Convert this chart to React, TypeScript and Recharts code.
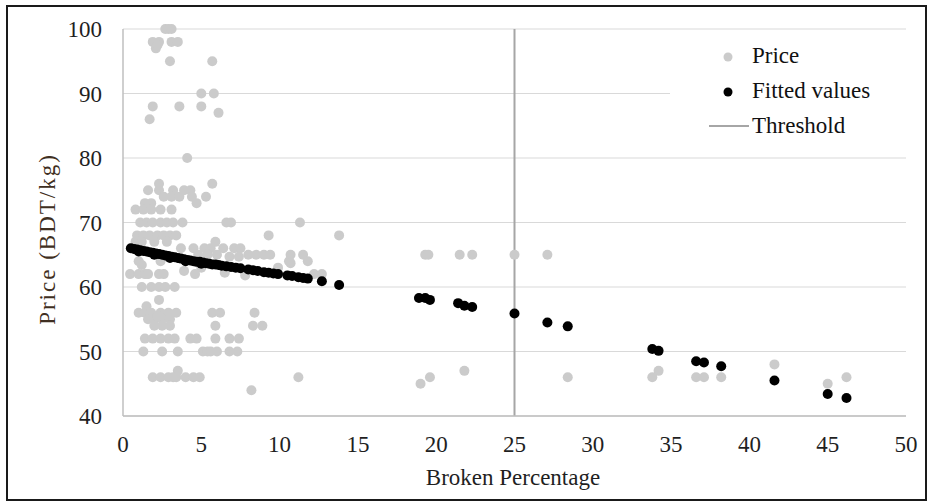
import React from 'react';
import { ScatterChart, Scatter, XAxis, YAxis, CartesianGrid, ReferenceLine } from 'recharts';

const FONT = 'Liberation Serif';
const FS = 23;

const xTicks = [0, 5, 10, 15, 20, 25, 30, 35, 40, 45, 50];
const yTicks = [40, 50, 60, 70, 80, 90, 100];
const threshold = 25;

const priceX = [
  2.7, 2.9, 3.1,
  1.9, 2.1, 2.3, 2.2, 3.1, 3.5,
  3.0, 5.7,
  5.0, 5.8,
  1.9, 3.6, 5.0, 6.1, 1.7, 4.1,
  2.3, 5.7, 1.6, 2.3, 3.2, 3.9, 4.3, 2.6, 3.1, 3.6, 4.4, 5.3, 1.4, 1.8, 4.7, 0.8, 1.3, 1.8, 2.4, 3.1,
  1.1, 1.5, 1.9, 2.4, 2.8, 3.2, 3.8, 6.6, 6.9, 11.3,
  0.9, 1.3, 1.7, 2.2, 2.6, 3.0, 3.4, 9.3, 13.8,
  0.8, 1.2, 2.0, 2.8, 5.9,
  3.7, 4.5, 5.2, 5.6, 6.4, 7.1, 7.5,
  4.8, 5.4, 6.0, 8.0, 8.5, 9.0, 9.4, 10.7, 11.5, 19.3, 19.5, 21.5, 22.3, 25.0, 27.1,
  1.0, 2.4, 6.8, 7.4, 10.6, 11.8, 10.7, 1.2,
  9.9, 5.0, 12.2, 3.9, 6.5, 7.8,
  0.45, 1.0, 1.4, 1.6, 2.3, 2.6, 4.6, 12.7,
  1.2, 1.8, 2.3, 2.7, 3.3,
  2.3, 1.5,
  1.0, 1.4, 1.8, 2.4, 2.9, 3.4, 5.7, 6.2, 8.4,
  1.6, 2.0, 2.5, 3.0, 2.2,
  2.0, 2.5, 3.0, 5.9, 8.3, 8.9,
  1.4, 1.9, 2.4, 2.9, 3.3, 4.3, 4.7, 5.9, 6.8, 7.4,
  1.3, 2.5, 3.5, 5.1, 5.4, 5.6, 6.0, 6.8, 7.3,
  3.5, 21.8, 34.2,
  1.9, 2.4, 2.9, 3.2, 3.4, 4.0, 4.5, 4.9, 11.2, 19.6, 28.4, 33.8, 36.6, 37.1, 38.2, 46.2,
  19.0, 45.0,
  8.2,
  41.6,
];
const priceY = [
  100, 100, 100,
  98, 97, 98, 97.5, 98, 98,
  95, 95,
  90, 90,
  88, 88, 88, 87, 86, 80,
  76, 76, 75, 75, 75, 75, 75, 74, 74, 74, 74, 74, 73, 73, 73, 72, 72, 72, 72, 72,
  70, 70, 70, 70, 70, 70, 70, 70, 70, 70,
  68, 68, 68, 68, 68, 68, 68, 68, 68,
  67, 67, 67, 67, 67,
  66, 66, 66, 66, 66, 66, 66,
  65, 65, 65, 65, 65, 65, 65, 65, 65, 65, 65, 65, 65, 65, 65,
  64, 64, 64.7, 64.7, 64, 64, 63.7, 63.4,
  63, 63, 62, 62.5, 62.2, 61.8,
  62, 62, 62, 62, 62, 62, 62, 62,
  60, 60, 60, 60, 60,
  58, 57,
  56, 56, 56, 56, 56, 56, 56, 56, 56,
  55, 55, 55, 55, 55.5,
  54, 54, 54, 54, 54, 54,
  52, 52, 52, 52, 52, 52, 52, 52, 52, 52,
  50, 50, 50, 50, 50, 50, 50, 50, 50,
  47, 47, 47,
  46, 46, 46, 46, 46, 46, 46, 46, 46, 46, 46, 46, 46, 46, 46, 46,
  45, 45,
  44,
  48,
];

const fittedX = [
  0.5, 0.7, 0.9, 1.0, 1.1, 1.3, 1.5, 1.7, 1.9, 2.0, 2.1, 2.3, 2.5, 2.7, 2.9, 3.0, 3.1, 3.3, 3.5, 3.7,
  3.9, 4.0, 4.1, 4.3, 4.5, 4.7, 4.9, 5.0, 5.1, 5.3, 5.5, 5.7, 5.9, 6.1, 6.3, 6.6, 6.9, 7.2, 7.5,
  8.0, 8.3, 8.6, 9.0, 9.3, 9.6, 9.9, 10.5, 10.8, 11.2, 11.5, 11.8,
  12.7, 13.8,
  18.9, 19.3, 19.6, 21.4, 21.8, 22.3, 25.0, 27.1, 28.4, 33.8, 34.2, 36.6, 37.1, 38.2, 41.6, 45.0, 46.2,
];
const fittedY = [
  66.0, 65.9, 65.8, 65.5, 65.7, 65.6, 65.5, 65.4, 65.3, 65.0, 65.2, 65.1, 65.0, 64.9, 64.8, 64.5, 64.7, 64.6, 64.5, 64.4,
  64.3, 64.0, 64.2, 64.1, 64.0, 63.9, 63.9, 63.6, 63.8, 63.7, 63.6, 63.5, 63.5, 63.4, 63.3, 63.2, 63.1, 63.0, 62.9,
  62.7, 62.6, 62.5, 62.3, 62.2, 62.1, 62.0, 61.8, 61.7, 61.5, 61.4, 61.3,
  60.9, 60.3,
  58.3, 58.3, 58.0, 57.5, 57.1, 56.9, 55.9, 54.5, 53.9, 50.4, 50.1, 48.5, 48.3, 47.7, 45.5, 43.4, 42.8,
];

const priceData = priceX.map((x, i) => ({ x, y: priceY[i] }));
const fittedData = fittedX.map((x, i) => ({ x, y: fittedY[i] }));

const GRAY = '#cbcbcb';

const dot = (fill: string) => (props: any) => (
  <circle cx={props.cx} cy={props.cy} r={5} fill={fill} />
);

export default function App() {
  return (
    <div style={{ position: 'absolute', left: 0, top: 0, width: 930, height: 503, background: '#fff' }}>
      <ScatterChart width={930} height={503} margin={{ top: 29, right: 24, bottom: 0, left: 0 }}>
        <CartesianGrid vertical={false} stroke="#d9d9d9" />
        <XAxis
          type="number"
          dataKey="x"
          domain={[0, 50]}
          ticks={xTicks}
          height={87}
          axisLine={{ stroke: '#bfbfbf', strokeWidth: 1.5 }}
          tickLine={false}
          tickMargin={14}
          tick={{ fontSize: FS, fontFamily: FONT, fill: '#1f1f1f' }}
        />
        <YAxis
          type="number"
          dataKey="y"
          domain={[40, 100]}
          ticks={yTicks}
          width={123}
          axisLine={{ stroke: '#bfbfbf', strokeWidth: 1.5 }}
          tickLine={false}
          tickMargin={15}
          tick={{ fontSize: FS, fontFamily: FONT, fill: '#1f1f1f' }}
        />
        <ReferenceLine x={threshold} stroke="#a6a6a6" strokeWidth={2} />
        <Scatter name="Price" data={priceData} shape={dot(GRAY)} isAnimationActive={false} />
        <Scatter name="Fitted values" data={fittedData} shape={dot('#000')} isAnimationActive={false} />
      </ScatterChart>
      <svg width={930} height={503} style={{ position: 'absolute', left: 0, top: 0 }}>
        <rect x={670} y={34} width={237} height={116} fill="#fff" />
        <circle cx={728} cy={57} r={4.5} fill={GRAY} />
        <text x={752} y={63} fontFamily={FONT} fontSize={FS} fill="#111">Price</text>
        <circle cx={728} cy={92} r={4.5} fill="#000" />
        <text x={752} y={98} fontFamily={FONT} fontSize={FS} fill="#111">Fitted values</text>
        <line x1={709} y1={126} x2={749} y2={126} stroke="#a6a6a6" strokeWidth={2} />
        <text x={752} y={133} fontFamily={FONT} fontSize={FS} fill="#111">Threshold</text>
        <text x={513} y={485} textAnchor="middle" fontFamily={FONT} fontSize={FS} fill="#1f1f1f">Broken Percentage</text>
        <text
          x={55}
          y={239}
          textAnchor="middle"
          fontFamily={FONT}
          fontSize={FS}
          fill="#3f2f22"
          letterSpacing={2}
          transform="rotate(-90, 55, 239)"
        >
          Price (BDT/kg)
        </text>
      </svg>
      <div style={{ position: 'absolute', left: 6, top: 5, width: 917, height: 492, border: '2px solid #1a1a1a' }} />
    </div>
  );
}
